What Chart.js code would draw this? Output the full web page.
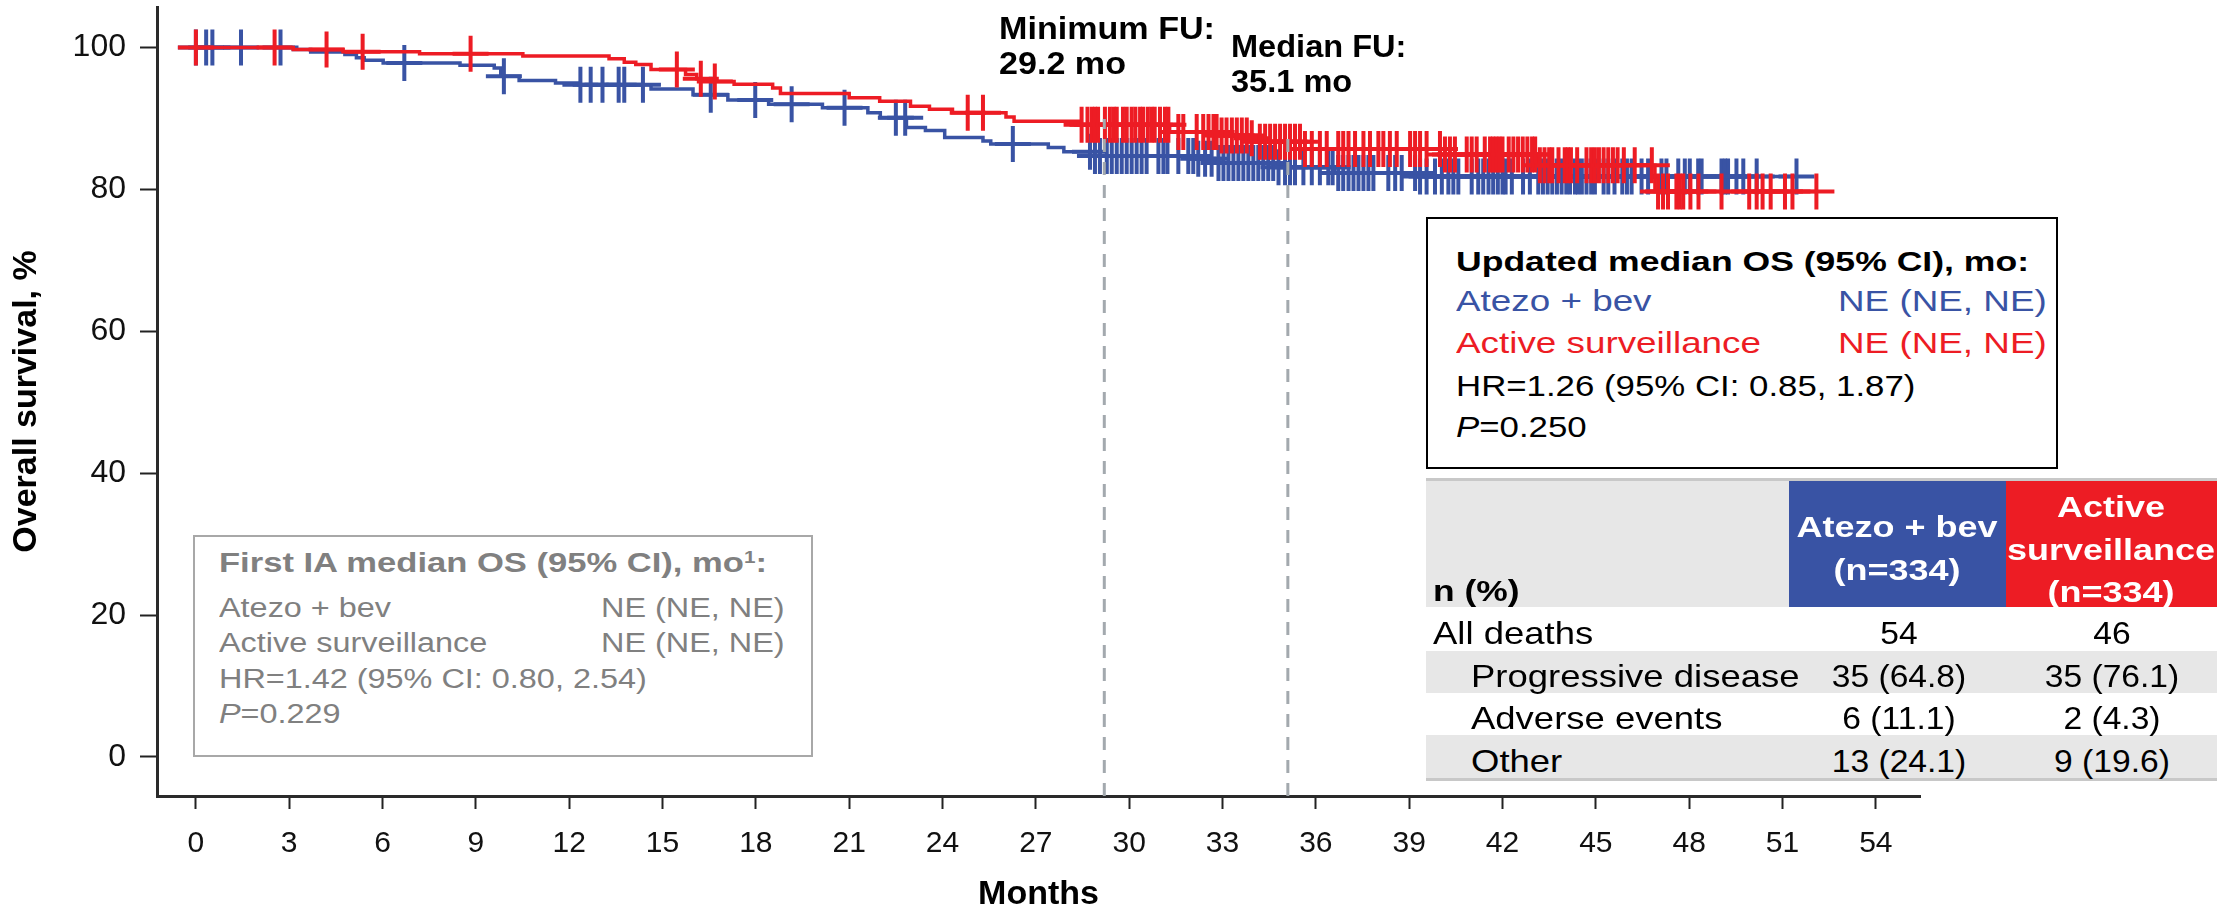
<!DOCTYPE html>
<html><head><meta charset="utf-8">
<script src="https://cdn.jsdelivr.net/npm/chart.js@4.4.1/dist/chart.umd.min.js"></script>
<style>
html,body{margin:0;padding:0;background:#fff;}
#wrap{position:relative;width:2240px;height:915px;overflow:hidden;background:#fff;}
#c{position:absolute;left:0;top:0;}
.t{position:absolute;white-space:nowrap;font-family:"Liberation Sans",Arial,Helvetica,sans-serif;}
.bg{position:absolute;box-sizing:border-box;}
sup{font-size:60%;vertical-align:0.55em;line-height:0;}
</style></head><body>
<div id="wrap"><canvas id="c" width="2240" height="915"></canvas></div>
<script>
// ---------------- data ----------------
const monthTicks = [0,3,6,9,12,15,18,21,24,27,30,33,36,39,42,45,48,51,54];
const survivalTicks = [0,20,40,60,80,100];

// Atezo + bev: Kaplan-Meier step times (months) and survival (%)
const atezoTimes = [0,3.13,3.69,4.79,5.16,5.41,6.02,8.49,9.59,9.8,10.39,11.56,12.3,14.63,15.98,17.1,18.41,20.14,21.6,22.0,22.84,23.45,24.07,25.3,25.55,27.4,27.9,28.75,32.2,32.8,34.8,36.6,39.3];
const atezoSurv  = [100,99.7,99.35,99.0,98.55,98.2,97.8,97.5,97.1,95.95,95.35,95.0,94.75,94.15,93.35,92.6,92.0,91.5,90.8,90.1,88.7,88.3,87.3,86.8,86.4,85.9,85.3,84.7,84.3,83.7,83.1,82.3,81.8];
const atezoCensor = [0,0.33,0.53,1.45,2.72,6.7,9.9,12.36,12.69,13.07,13.59,13.77,14.37,16.55,17.98,19.15,20.85,22.5,22.8,26.26,
 28.74,28.9,29.06,29.28,29.44,29.6,29.76,29.92,30.08,30.24,30.4,30.56,30.94,31.1,31.23,31.58,31.9,32.06,32.22,32.44,32.65,
 32.87,33.03,33.19,33.35,33.51,33.67,33.83,33.99,34.15,34.31,34.47,34.63,34.8,35.01,35.17,35.33,35.6,35.87,36.13,36.4,36.54,
 36.72,36.88,37.05,37.21,37.37,37.53,37.69,37.85,38.33,38.55,38.76,39.19,39.35,39.56,39.83,40.05,40.26,40.42,40.58,41.01,41.22,
 41.38,41.55,41.7,41.85,42.0,42.1,42.3,42.66,42.88,43.15,43.3,43.45,43.6,43.75,43.9,44.05,44.17,44.33,44.43,44.55,44.7,44.85,44.97,
 45.25,45.4,45.6,45.85,46.0,46.15,46.47,46.68,47.11,47.27,47.65,47.86,48.02,48.29,48.4,49.04,49.15,49.25,49.52,49.74,50.17,51.45];

// Active surveillance
const activeTimes = [0,3.13,4.73,7.19,10.51,13.28,13.77,14.14,14.63,15.74,16.1,16.57,17.3,18.54,18.79,21.0,21.98,22.97,23.58,24.32,26.04,26.3,28.4,31.3,32.9,33.8,34.1,35.5,40.0,43.1,46.9];
const activeSurv  = [100,99.7,99.4,99.1,98.8,98.4,97.9,97.6,96.9,96.2,95.6,95.2,94.8,94.3,93.5,92.9,92.4,91.7,91.3,90.8,90.2,89.6,89.1,88.1,87.6,87.2,86.7,85.7,84.9,83.4,79.7];
const activeCensor = [0,2.53,4.2,5.36,8.83,15.46,16.23,16.68,24.81,25.3,
 28.47,28.66,28.8,28.9,29.0,29.22,29.38,29.5,29.6,29.8,29.92,30.08,30.2,30.35,30.45,30.6,30.72,30.82,30.99,31.15,31.26,
 31.58,31.74,32.17,32.38,32.55,32.71,32.81,32.97,33.13,33.3,33.46,33.62,33.78,33.94,34.2,34.37,34.53,34.69,34.85,35.01,35.17,35.33,35.49,
 35.65,35.87,36.13,36.35,36.72,36.88,37.05,37.26,37.53,37.74,38.01,38.17,38.38,38.6,39.03,39.19,39.35,39.56,39.99,
 40.15,40.31,40.47,40.85,41.01,41.17,41.43,41.6,41.7,41.8,41.9,42.0,42.2,42.35,42.5,42.65,42.8,42.95,43.05,
 43.2,43.35,43.5,43.6,43.8,44.0,44.1,44.2,44.4,44.7,44.85,44.97,45.1,45.25,45.4,45.55,45.7,45.9,46.25,46.8,
 47.0,47.16,47.32,47.59,47.7,47.81,48.04,48.3,49.04,49.93,50.17,50.36,50.62,51.08,51.32,52.09];

// Follow-up reference lines (months) and the survival level where each dashed line starts
const followUpMonths = [29.2, 35.1];
const followUpTop = [89.9, 87.5];
const followUpLabels = [["Minimum FU:","29.2 mo"],["Median FU:","35.1 mo"]];

// Death table
const tableRowLabels = ["All deaths","Progressive disease","Adverse events","Other"];
const atezoDeaths = ["54","35 (64.8)","6 (11.1)","13 (24.1)"];
const activeDeaths = ["46","35 (76.1)","2 (4.3)","9 (19.6)"];

// ---------------- chart ----------------
const BLUE = '#3953A4', RED = '#ED1C24';
const FONT = '"Liberation Sans", Arial, sans-serif';
const Y_MIN = -5.5, Y_MAX = 105.7;

function stepData(times, surv, censor){
  const pts = times.map((t,i)=>({x:t,y:surv[i]}));
  pts.push({x:censor[censor.length-1], y:surv[surv.length-1]});
  return pts;
}
function survAt(times, surv, t){
  let v = surv[0];
  for (let i=0;i<times.length;i++){ if (times[i] <= t) v = surv[i]; }
  return v;
}
function censorData(times, surv, censor){
  return censor.map(t=>({x:t, y:survAt(times, surv, t)}));
}

const datasets = [];
followUpMonths.forEach((m,i)=>{
  datasets.push({data:[{x:m,y:Y_MIN},{x:m,y:followUpTop[i]}], showLine:true, borderColor:'#A3A9AE',
    borderWidth:3, borderDash:[13,10], pointRadius:0, order:-1});
});
datasets.push({label:'Active surveillance censored', data:censorData(activeTimes,activeSurv,activeCensor), showLine:false,
  pointStyle:'cross', pointRadius:18, pointBorderWidth:4, borderColor:RED, backgroundColor:RED, order:0});
datasets.push({label:'Active surveillance', data:stepData(activeTimes,activeSurv,activeCensor), showLine:true, stepped:true,
  borderColor:RED, borderWidth:3.5, pointRadius:0, order:1});
datasets.push({label:'Atezo + bev censored', data:censorData(atezoTimes,atezoSurv,atezoCensor), showLine:false,
  pointStyle:'cross', pointRadius:18, pointBorderWidth:4, borderColor:BLUE, backgroundColor:BLUE, order:2});
datasets.push({label:'Atezo + bev', data:stepData(atezoTimes,atezoSurv,atezoCensor), showLine:true, stepped:true,
  borderColor:BLUE, borderWidth:3.5, pointRadius:0, order:3});

new Chart(document.getElementById('c'), {
  type:'scatter',
  data:{datasets},
  options:{
    responsive:false, animation:false, devicePixelRatio:1,
    layout:{autoPadding:false, padding:{left:0,right:320,top:7,bottom:0}},
    plugins:{legend:{display:false}, tooltip:{enabled:false}},
    scales:{
      x:{type:'linear', min:-1.25, max:55.42,
        afterBuildTicks:s=>{s.ticks = monthTicks.map(v=>({value:v}));},
        afterFit:s=>{s.height = 119; s.paddingLeft = 0; s.paddingRight = 0;},
        ticks:{font:{family:FONT,size:30}, color:'#111', padding:17, maxRotation:0, autoSkip:false},
        grid:{drawOnChartArea:false, drawTicks:true, tickLength:13, tickWidth:2, tickColor:'#222'},
        border:{display:true, color:'#2a2a2a', width:3},
        title:{display:true, text:'Months', font:{family:FONT,size:34,weight:'bold'}, color:'#000', padding:{top:0,bottom:0}}
      },
      y:{type:'linear', min:Y_MIN, max:Y_MAX,
        afterBuildTicks:s=>{s.ticks = survivalTicks.map(v=>({value:v}));},
        afterFit:s=>{s.width = 157; s.paddingTop = 0; s.paddingBottom = 0;},
        ticks:{font:{family:FONT,size:32}, color:'#111', padding:14, autoSkip:false},
        grid:{drawOnChartArea:false, drawTicks:true, tickLength:17, tickWidth:2, tickColor:'#222'},
        border:{display:true, color:'#2a2a2a', width:3},
        title:{display:true, text:'Overall survival, %', font:{family:FONT,size:34,weight:'bold'}, color:'#000', padding:{top:6,bottom:0}}
      }
    }
  }
});

// ---------------- overlays (text boxes & table) ----------------
const wrap = document.getElementById('wrap');
function rect(x,y,w,h,style){ const d=document.createElement('div'); d.className='bg';
  Object.assign(d.style,{left:x+'px',top:y+'px',width:w+'px',height:h+'px'},style||{}); wrap.appendChild(d); return d; }
function text(html,x,yc,o){
  o=o||{}; const size=o.size||29, lh=o.lh||Math.round(size*1.2), sx=o.sx||1;
  const d=document.createElement('div'); d.className='t'; d.innerHTML=html;
  d.style.fontSize=size+'px'; d.style.lineHeight=lh+'px'; d.style.color=o.color||'#000';
  d.style.fontWeight=o.bold?'bold':'normal';
  d.style.left=x+'px'; d.style.top=(yc-lh/2)+'px';
  if (o.center){ d.style.transformOrigin='50% 50%'; d.style.transform='translateX(-50%) scaleX('+sx+')'; }
  else { d.style.transformOrigin='0 50%'; d.style.transform='scaleX('+sx+')'; }
  wrap.appendChild(d); return d;
}

// follow-up annotations (two lines each, line-height 35)
text(followUpLabels[0].join('<br>'),999,28.5,{size:31,bold:true,lh:35,sx:1.1});
text(followUpLabels[1].join('<br>'),1231,46.5,{size:31,bold:true,lh:35,sx:1.05});

// updated OS box
rect(1426,217,632,252,{border:'2px solid #000',background:'#fff'});
text('Updated median OS (95% CI), mo:',1456,262,{size:28,bold:true,sx:1.27});
text('Atezo + bev',1456,301,{color:BLUE,sx:1.27});
text('NE (NE, NE)',1838,301,{color:BLUE,sx:1.27});
text('Active surveillance',1456,343,{color:RED,sx:1.27});
text('NE (NE, NE)',1838,343,{color:RED,sx:1.27});
text('HR=1.26 (95% CI: 0.85, 1.87)',1456,386,{sx:1.2});
text('<i>P</i>=0.250',1456,427,{sx:1.2});

// first IA box
const GR='#808080';
rect(193,535,620,222,{border:'2px solid #A8A8A8',background:'#fff'});
const g={size:27,sx:1.2,color:GR};
text('First IA median OS (95% CI), mo<sup>1</sup>:',219,563,{size:27,sx:1.28,color:GR,bold:true});
text('Atezo + bev',219,608,g); text('NE (NE, NE)',601,608,g);
text('Active surveillance',219,643,g); text('NE (NE, NE)',601,643,g);
text('HR=1.42 (95% CI: 0.80, 2.54)',219,679,g);
text('<i>P</i>=0.229',219,714,g);

// death table
rect(1426,478,791,3,{background:'#C8C8C8'});
rect(1426,481,363,126,{background:'#E7E7E7'});
rect(1789,481,217,126,{background:BLUE});
rect(2006,481,211,126,{background:RED});
rect(1426,651,791,42,{background:'#E7E7E7'});
rect(1426,735,791,43,{background:'#E7E7E7'});
rect(1426,778,791,3,{background:'#C8C8C8'});
text('n (%)',1433,591,{size:30,bold:true,sx:1.18});
text('Atezo + bev',1897,527,{size:30,bold:true,sx:1.2,center:true,color:'#fff'});
text('(n=334)',1897,570,{size:30,bold:true,sx:1.2,center:true,color:'#fff'});
text('Active',2111,507,{size:30,bold:true,sx:1.2,center:true,color:'#fff'});
text('surveillance',2111,550,{size:30,bold:true,sx:1.2,center:true,color:'#fff'});
text('(n=334)',2111,592,{size:30,bold:true,sx:1.2,center:true,color:'#fff'});
const rowY=[633,676,718,761];
tableRowLabels.forEach((lab,i)=>{
  text(lab, i===0?1433:1471, rowY[i], {size:32,sx:1.14});
  text(atezoDeaths[i],1899,rowY[i],{size:32,sx:1.05,center:true});
  text(activeDeaths[i],2112,rowY[i],{size:32,sx:1.05,center:true});
});
</script>
</body></html>
